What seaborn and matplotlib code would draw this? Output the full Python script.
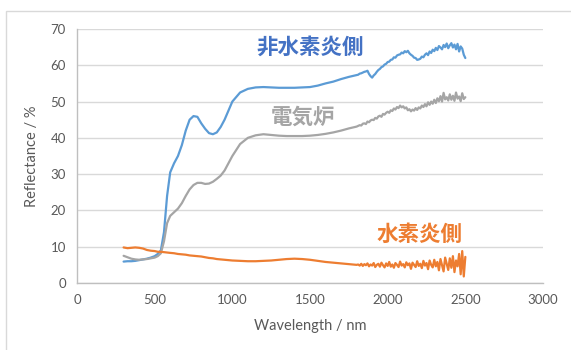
import pandas as pd
import matplotlib
matplotlib.use("Agg")
import matplotlib.pyplot as plt
import seaborn as sns
from matplotlib.patches import Rectangle

# wavelength grid (nm): coarse in the smooth part, 10 nm steps in the noisy NIR part
wavelength = [300, 325, 350, 375, 400, 425, 450, 475, 500, 520, 540, 560, 580, 600,
              625, 650, 675, 700, 725, 750, 775, 800, 825, 850, 875, 900, 925, 950,
              975, 1000, 1050, 1100, 1150, 1200, 1250, 1300, 1350, 1400, 1450, 1500,
              1550, 1600, 1650, 1700, 1750, 1800,
              1810, 1820, 1830, 1840, 1850, 1860, 1870, 1880, 1890, 1900,
              1910, 1920, 1930, 1940, 1950, 1960, 1970, 1980, 1990, 2000,
              2010, 2020, 2030, 2040, 2050, 2060, 2070, 2080, 2090, 2100,
              2110, 2120, 2130, 2140, 2150, 2160, 2170, 2180, 2190, 2200,
              2210, 2220, 2230, 2240, 2250, 2260, 2270, 2280, 2290, 2300,
              2310, 2320, 2330, 2340, 2350, 2360, 2370, 2380, 2390, 2400,
              2410, 2420, 2430, 2440, 2450, 2460, 2470, 2480, 2490, 2500]

# 非水素炎側
refl_non_h2 = [5.9, 6.0, 6.0, 6.1, 6.3, 6.5, 6.7, 7.0, 7.4, 8.0, 9.0, 14.0, 24.0, 30.5,
               33.0, 35.0, 38.0, 42.0, 45.0, 46.0, 45.8, 44.0, 42.5, 41.3, 41.0, 41.5,
               43.0, 45.0, 47.5, 50.0, 52.5, 53.5, 53.9, 54.0, 53.9, 53.8, 53.8, 53.8,
               53.9, 54.0, 54.4, 55.0, 55.5, 56.2, 56.8, 57.3,
               57.4, 57.7, 57.8, 58.0, 58.2, 58.3, 58.5, 57.6, 57.0, 56.6,
               57.2, 57.6, 58.2, 58.7, 59.0, 59.5, 59.7, 60.2, 60.4, 60.9,
               61.0, 61.5, 61.6, 62.2, 62.1, 62.7, 62.9, 63.0, 63.5, 63.3,
               63.9, 63.6, 64.0, 63.3, 62.9, 62.6, 62.1, 62.0, 61.5, 61.6,
               61.8, 62.4, 62.2, 62.9, 63.3, 62.8, 63.8, 63.4, 64.3, 63.9,
               64.8, 64.2, 65.3, 64.9, 64.4, 65.6, 65.0, 66.0, 64.7, 65.5,
               66.1, 64.9, 65.7, 64.4, 65.9, 63.8, 65.2, 64.6, 62.9, 62.0]

# 電気炉
refl_furnace = [7.5, 7.1, 6.7, 6.5, 6.4, 6.5, 6.6, 6.8, 7.0, 7.4, 8.2, 11.5, 16.5, 18.5,
                19.5, 20.5, 22.0, 24.0, 25.8, 27.0, 27.6, 27.6, 27.3, 27.4, 27.9, 28.7,
                29.6, 31.0, 33.0, 35.0, 38.3, 40.0, 40.7, 41.0, 40.8, 40.6, 40.5, 40.5,
                40.5, 40.6, 40.8, 41.1, 41.5, 42.0, 42.6, 43.1,
                43.3, 43.5, 43.4, 43.9, 44.0, 43.8, 44.5, 44.3, 44.8, 45.0,
                44.9, 45.5, 45.3, 45.9, 46.1, 45.8, 46.6, 46.4, 46.9, 47.2,
                46.9, 47.6, 47.4, 48.1, 47.8, 48.5, 48.2, 48.9, 48.4, 48.7,
                48.1, 48.4, 47.6, 47.9, 47.3, 47.8, 47.5, 48.2, 47.7, 48.4,
                48.1, 48.9, 48.5, 49.3, 48.7, 49.8, 49.1, 50.0, 49.4, 50.5,
                49.6, 50.9, 50.1, 51.5, 50.0, 52.4, 50.6, 51.2, 50.3, 52.0,
                50.5, 51.6, 50.2, 52.5, 50.8, 51.4, 50.1, 52.3, 50.7, 51.2]

# 水素炎側
refl_h2 = [9.8, 9.6, 9.7, 9.8, 9.7, 9.5, 9.1, 8.9, 8.8, 8.6, 8.6, 8.5, 8.4, 8.3,
           8.2, 8.0, 7.9, 7.8, 7.6, 7.5, 7.4, 7.3, 7.1, 6.9, 6.8, 6.6, 6.5, 6.4,
           6.3, 6.2, 6.1, 6.0, 6.0, 6.1, 6.2, 6.4, 6.6, 6.7, 6.6, 6.4, 6.1, 5.8,
           5.6, 5.4, 5.2, 5.0,
           5.1, 4.8, 5.3, 4.7, 5.2, 4.9, 5.4, 4.6, 5.1, 4.8,
           5.5, 4.4, 5.0, 5.3, 4.5, 5.6, 4.9, 4.3, 5.4, 4.7,
           5.8, 4.5, 5.1, 4.2, 5.5, 5.0, 4.4, 5.9, 4.8, 5.2,
           4.3, 5.7, 4.9, 5.4, 3.9, 5.6, 5.0, 4.4, 6.0, 4.7,
           5.3, 4.1, 6.1, 4.8, 5.5, 3.8, 6.2, 5.0, 4.3, 6.4,
           4.6, 5.8, 3.5, 6.6, 4.9, 3.2, 7.0, 5.3, 3.6, 6.8,
           4.2, 7.4, 3.0, 6.2, 4.6, 8.0, 2.4, 8.8, 1.8, 7.2]

series_names = ["非水素炎側", "電気炉", "水素炎側"]
colors = ["#5B9BD5", "#A5A5A5", "#ED7D31"]
label_colors = ["#4472C4", "#A5A5A5", "#ED7D31"]

df = pd.DataFrame({
    "wl": wavelength * 3,
    "R": refl_non_h2 + refl_furnace + refl_h2,
    "sample": [n for n in series_names for _ in wavelength],
})

sns.set_style("white")
plt.rcParams["font.family"] = ["Lato", "DejaVu Sans"]

fig = plt.figure(figsize=(5.71, 3.5), dpi=100)
ax = fig.add_axes([77 / 571, 1 - 283 / 350, 466 / 571, 254 / 350])

sns.lineplot(data=df, x="wl", y="R", hue="sample", palette=dict(zip(series_names, colors)),
             sort=False, estimator=None, linewidth=1.6, legend=False, ax=ax)

ax.set_xlim(0, 3000)
ax.set_ylim(0, 70)
ax.set_xticks(range(0, 3001, 500))
ax.set_yticks(range(0, 71, 10))
ax.yaxis.grid(True, color="#D9D9D9", linewidth=1)
ax.set_axisbelow(True)
for s in ["top", "right"]:
    ax.spines[s].set_visible(False)
for s in ["left", "bottom"]:
    ax.spines[s].set_color("#BFBFBF")
    ax.spines[s].set_linewidth(1)
ax.tick_params(axis="both", length=0, labelsize=9.5, labelcolor="#595959", pad=8)
ax.set_xlabel("Wavelength / nm", fontsize=10.5, color="#595959", labelpad=9)
ax.set_ylabel("Reflectance / %", fontsize=10.5, color="#595959", labelpad=8)

# series labels
cjk = ["Noto Sans CJK JP", "DejaVu Sans"]
label_pos = [(1503, 64.9), (1458, 45.6), (2205, 13.5)]
for name, c, (lx, ly) in zip(series_names, label_colors, label_pos):
    ax.text(lx, ly, name, color=c, fontsize=15.5, fontweight="bold",
            family=cjk, ha="center", va="center")

# chart area border
fig.patches.append(Rectangle((6 / 571, -0.1), 1.2, 1 - 11 / 350 + 0.1, transform=fig.transFigure,
                             fill=False, edgecolor="#D9D9D9", linewidth=1))

fig.savefig("out.png", dpi=100)
